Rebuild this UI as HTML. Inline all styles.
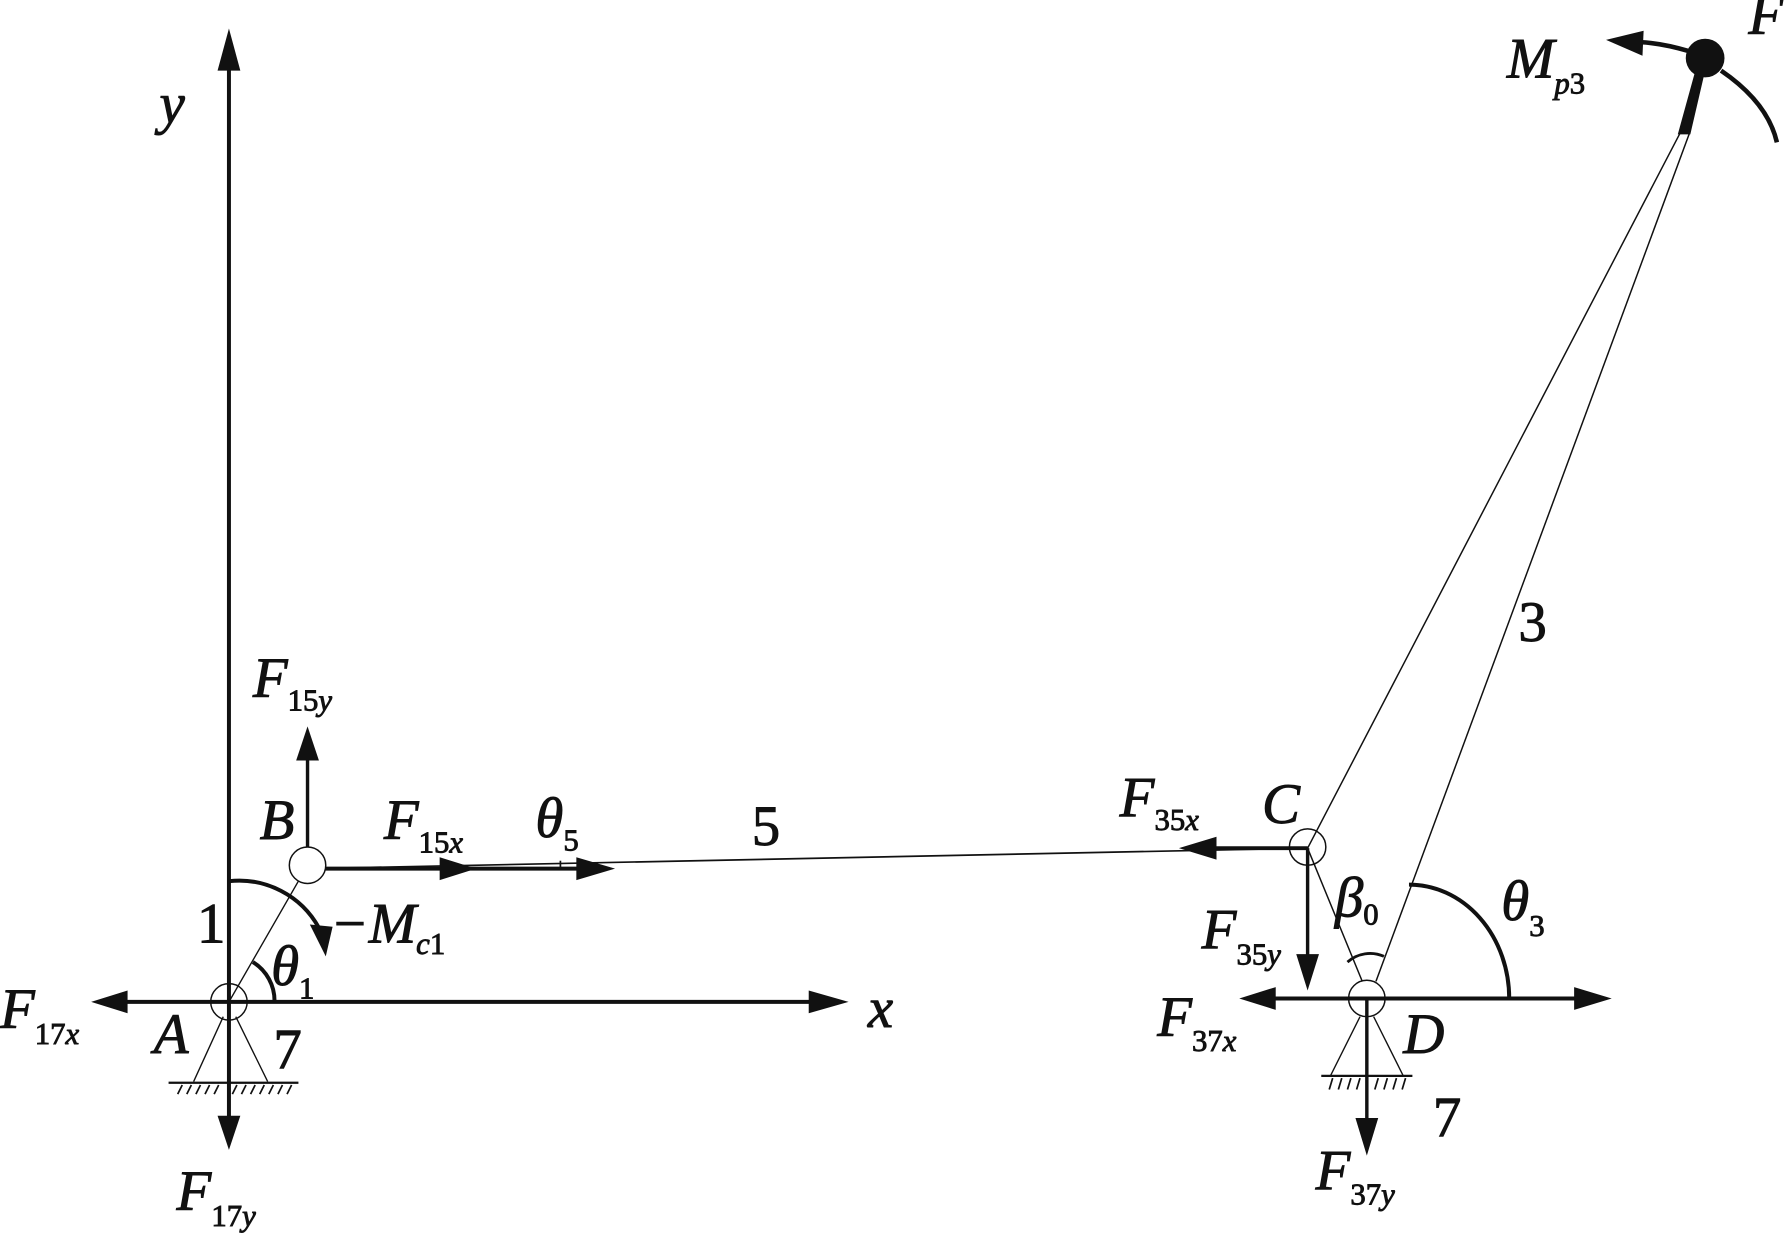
<!DOCTYPE html>
<html><head><meta charset="utf-8"><style>
html,body{margin:0;padding:0;background:#fff;}
svg{display:block;}
.t{font-family:"Liberation Serif","Times New Roman",Times,serif;fill:#111;}
.i{font-style:italic;}
.b{font-size:50px;}
.s{font-size:27px;font-style:normal;}
.si{font-size:27px;font-style:italic;}
</style></head><body>
<svg width="1786" height="1233" viewBox="0 0 1568 1083" preserveAspectRatio="none" xmlns="http://www.w3.org/2000/svg">
<g stroke="#111" fill="none">
<line x1="201" y1="55" x2="201" y2="985" stroke-width="3.5"/>
<polygon points="201,25 191,62 211,62" fill="#111" stroke="none"/>
<polygon points="201,1010 191,980 211,980" fill="#111" stroke="none"/>
<line x1="105" y1="880" x2="720" y2="880" stroke-width="3.5"/>
<polygon points="80,880 112,870 112,890" fill="#111" stroke="none"/>
<polygon points="745,880 710,870 710,890" fill="#111" stroke="none"/>
<line x1="201" y1="880" x2="270" y2="760" stroke-width="1.2"/>
<line x1="196" y1="893" x2="170" y2="950" stroke-width="1.2"/>
<line x1="207" y1="893" x2="235" y2="950" stroke-width="1.2"/>
<line x1="148" y1="951" x2="262" y2="951" stroke-width="2"/>
<path d="M160 953l-4 8M168 953l-4 8M176 953l-4 8M184 953l-4 8M192 953l-4 8M208 953l-4 8M216 953l-4 8M224 953l-4 8M232 953l-4 8M240 953l-4 8M248 953l-4 8M256 953l-4 8" stroke-width="1.5"/>
<circle cx="201" cy="880" r="16" stroke-width="1.3" fill="none"/>
<path d="M241 880 A40 40 0 0 0 222 845" stroke-width="3.5"/>
<path d="M201 774 A 80 80 0 0 1 280 815" stroke-width="3.5"/>
<polygon points="286,840 272,812 292,814" fill="#111" stroke="none"/>
<line x1="270" y1="763" x2="1148" y2="745" stroke-width="1.5"/>
<line x1="270" y1="763" x2="270" y2="665" stroke-width="3"/>
<polygon points="270,638 260,668 280,668" fill="#111" stroke="none"/>
<line x1="270" y1="763" x2="520" y2="763" stroke-width="3.5"/>
<polygon points="418,763 386,753 386,773" fill="#111" stroke="none"/>
<polygon points="540,763 506,753 506,773" fill="#111" stroke="none"/>
<line x1="492" y1="756" x2="492" y2="763" stroke-width="1.5"/>
<circle cx="270" cy="760" r="16" stroke-width="1.3" fill="#fff"/>
<line x1="1148" y1="745" x2="1476" y2="115" stroke-width="1.3"/>
<line x1="1208" y1="862" x2="1484" y2="115" stroke-width="1.3"/>
<line x1="1148" y1="745" x2="1196" y2="862" stroke-width="1.3"/>
<polygon points="1473,118 1484,118 1497,62 1489,60" fill="#111" stroke="none"/>
<line x1="1148" y1="745" x2="1060" y2="745" stroke-width="3.5"/>
<polygon points="1035,745 1068,735 1068,755" fill="#111" stroke="none"/>
<line x1="1148" y1="745" x2="1148" y2="845" stroke-width="3"/>
<polygon points="1148,870 1138,838 1158,838" fill="#111" stroke="none"/>
<circle cx="1148" cy="744" r="16" stroke-width="1.3" fill="none"/>
<line x1="1110" y1="877" x2="1390" y2="877" stroke-width="3.5"/>
<polygon points="1088,877 1120,867 1120,887" fill="#111" stroke="none"/>
<polygon points="1415,877 1382,867 1382,887" fill="#111" stroke="none"/>
<path d="M1237 777 A 88 100 0 0 1 1325 877" stroke-width="3.5"/>
<path d="M1183 845 A 30 30 0 0 1 1215 840" stroke-width="2.5"/>
<line x1="1194" y1="893" x2="1168" y2="945" stroke-width="1.2"/>
<line x1="1206" y1="893" x2="1232" y2="945" stroke-width="1.2"/>
<line x1="1160" y1="945" x2="1240" y2="945" stroke-width="2"/>
<path d="M1170 947l-3 10M1178 947l-3 10M1186 947l-3 10M1194 947l-3 10M1210 947l-3 10M1218 947l-3 10M1226 947l-3 10M1234 947l-3 10" stroke-width="1.5"/>
<line x1="1200" y1="877" x2="1200" y2="990" stroke-width="3"/>
<polygon points="1200,1015 1190,982 1210,982" fill="#111" stroke="none"/>
<circle cx="1200" cy="877" r="16" stroke-width="1.3" fill="none"/>
<circle cx="1497" cy="51" r="17" fill="#111" stroke="none"/>
<path d="M1483 45 Q1460 38 1440 37" stroke-width="4"/>
<polygon points="1410,35 1443,27 1442,49" fill="#111" stroke="none"/>
<path d="M1511 62 Q1552 90 1560 125" stroke-width="4"/>
</g>
<g class="t" font-family="Liberation Serif, Times New Roman, serif" stroke="#111" stroke-width="0.8">
<text x="140" y="108" class="i b">y</text>
<text x="762" y="902" class="i b">x</text>
<text x="0" y="903" class="i b">F<tspan class="s" dy="14">17</tspan><tspan class="si">x</tspan></text>
<text x="135" y="925" class="i b">A</text>
<text x="240" y="938" class="b">7</text>
<text x="155" y="1063" class="i b">F<tspan class="s" dy="14">17</tspan><tspan class="si">y</tspan></text>
<text x="173" y="828" class="b">1</text>
<text x="238" y="865" class="i b">θ<tspan class="s" dy="12">1</tspan></text>
<text x="290" y="828" class="i b">−M<tspan class="si" dy="10">c</tspan><tspan class="s">1</tspan></text>
<text x="228" y="737" class="i b">B</text>
<text x="222" y="612" class="i b">F<tspan class="s" dy="12">15</tspan><tspan class="si">y</tspan></text>
<text x="337" y="737" class="i b">F<tspan class="s" dy="12">15</tspan><tspan class="si">x</tspan></text>
<text x="470" y="735" class="i b">θ<tspan class="s" dy="12">5</tspan></text>
<text x="660" y="742" class="b">5</text>
<text x="983" y="717" class="i b">F<tspan class="s" dy="12">35</tspan><tspan class="si">x</tspan></text>
<text x="1108" y="723" class="i b">C</text>
<text x="1055" y="833" class="i b">F<tspan class="s" dy="14">35</tspan><tspan class="si">y</tspan></text>
<text x="1172" y="805" class="i b">β<tspan class="s" dy="7">0</tspan></text>
<text x="1318" y="808" class="i b">θ<tspan class="s" dy="14">3</tspan></text>
<text x="1016" y="910" class="i b">F<tspan class="s" dy="13">37</tspan><tspan class="si">x</tspan></text>
<text x="1232" y="925" class="i b">D</text>
<text x="1258" y="998" class="b">7</text>
<text x="1155" y="1045" class="i b">F<tspan class="s" dy="13">37</tspan><tspan class="si">y</tspan></text>
<text x="1333" y="563" class="b">3</text>
<text x="1323" y="68" class="i b">M<tspan class="si" dy="14">p</tspan><tspan class="s">3</tspan></text>
<text x="1535" y="30" class="i b">F</text>
</g>
</svg>
</body></html>
